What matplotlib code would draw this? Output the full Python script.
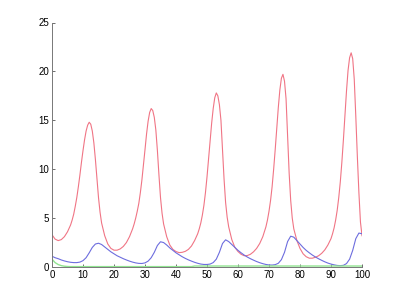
import matplotlib
matplotlib.use("Agg")
import matplotlib.pyplot as plt

# red series, sampled every half unit near the peaks
t_red = [0, 1, 2, 3, 4, 5,
         6, 6.5, 7, 7.5, 8, 8.5, 9, 9.5, 10, 10.5, 11, 11.5, 12, 12.5,
         13, 13.5, 14, 14.5, 15, 15.5, 16,
         17, 18, 19, 20, 21, 22, 23, 24, 25,
         26, 26.5, 27, 27.5, 28, 28.5, 29, 29.5, 30, 30.5, 31, 31.5, 32, 32.5,
         33, 33.5, 34, 34.5, 35, 35.5, 36,
         37, 38, 39, 40, 41, 42, 43, 44, 45, 46,
         47, 47.5, 48, 48.5, 49, 49.5, 50, 50.5, 51, 51.5, 52, 52.5, 53, 53.5,
         54, 54.5, 55, 55.5, 56, 56.5, 57,
         58, 59, 60, 61, 62, 63, 64, 65, 66, 67,
         68, 68.5, 69, 69.5, 70, 70.5, 71, 71.5, 72, 72.5, 73, 73.5, 74, 74.5,
         75, 75.5, 76, 76.5, 77, 77.5, 78,
         79, 80, 81, 82, 83, 84, 85, 86, 87, 88, 89,
         90, 90.5, 91, 91.5, 92, 92.5, 93, 93.5, 94, 94.5, 95, 95.5, 96, 96.5,
         97, 97.5, 98, 98.5, 99, 99.5, 100]
red = [3.3, 2.85, 2.7, 2.8, 3.1, 3.6,
       4.3, 4.8, 5.4, 6.2, 7.1, 8.2, 9.4, 10.7, 11.9, 13.0, 13.9, 14.5, 14.8, 14.6,
       13.9, 12.7, 11.0, 9.0, 7.1, 5.6, 4.5,
       3.2, 2.35, 1.9, 1.72, 1.72, 1.85, 2.1, 2.5, 3.1,
       3.9, 4.4, 5.0, 5.7, 6.5, 7.6, 8.9, 10.4, 12.0, 13.6, 14.9, 15.8, 16.2, 16.0,
       15.3, 14.0, 11.9, 9.4, 7.1, 5.5, 4.4,
       3.1, 2.25, 1.8, 1.58, 1.47, 1.5, 1.6, 1.8, 2.15, 2.7,
       3.4, 3.9, 4.5, 5.3, 6.3, 7.6, 9.2, 11.0, 12.9, 14.7, 16.2, 17.3, 17.8, 17.5,
       16.6, 15.0, 12.0, 9.0, 6.6, 5.1, 4.1,
       2.8, 2.0, 1.58, 1.3, 1.15, 1.17, 1.3, 1.55, 1.9, 2.4,
       3.1, 3.6, 4.1, 4.8, 5.7, 6.8, 8.2, 10.0, 12.0, 14.2, 16.3, 18.1, 19.3, 19.7,
       19.0, 17.2, 13.5, 9.6, 6.8, 5.0, 3.9,
       2.7, 1.9, 1.35, 1.05, 0.9, 0.9, 1.0, 1.15, 1.4, 1.75, 2.25,
       2.9, 3.4, 4.0, 4.8, 5.8, 7.1, 8.7, 10.7, 13.0, 15.5, 18.0, 20.1, 21.4, 21.9,
       21.3, 19.2, 15.4, 11.3, 7.6, 4.6, 3.2]

# blue series, one point per unit
t_blue = list(range(0, 101))
blue = [1.1, 0.95, 0.85, 0.72, 0.62, 0.54, 0.48, 0.45, 0.45, 0.5,
        0.65, 0.95, 1.45, 2.0, 2.35, 2.43, 2.3, 2.05, 1.8, 1.55,
        1.35, 1.15, 1.0, 0.85, 0.72, 0.6, 0.5, 0.42, 0.37, 0.36,
        0.42, 0.6, 0.95, 1.5, 2.2, 2.58, 2.5, 2.25, 1.95, 1.7,
        1.45, 1.25, 1.05, 0.88, 0.73, 0.6, 0.48, 0.38, 0.3, 0.26,
        0.26, 0.3, 0.45, 0.8, 1.5, 2.4, 2.78, 2.6, 2.3, 2.0,
        1.7, 1.45, 1.22, 1.02, 0.85, 0.7, 0.56, 0.44, 0.34, 0.26,
        0.21, 0.2, 0.24, 0.38, 0.75, 1.5, 2.6, 3.15, 3.05, 2.7,
        2.35, 2.0, 1.7, 1.45, 1.22, 1.02, 0.84, 0.68, 0.53, 0.4,
        0.3, 0.22, 0.16, 0.14, 0.17, 0.35, 0.8, 1.7, 2.9, 3.47,
        3.4]

# green series, close to zero after a quick decay
t_green = list(range(0, 101))
green = [0.8, 0.45, 0.25, 0.14, 0.08, 0.05] + [0.04] * 40 + [0.1] * 55

xticks = [0, 10, 20, 30, 40, 50, 60, 70, 80, 90, 100]
yticks = [0, 5, 10, 15, 20, 25]

plt.rcParams['font.family'] = ['Liberation Sans', 'DejaVu Sans']

fig = plt.figure(figsize=(4, 3), dpi=100)
ax = fig.add_axes([0.13, 0.11, 0.775, 0.815])

ax.plot(t_red, red, color="#f07585", lw=0.8)
ax.plot(t_blue, blue, color="#6d6dde", lw=0.8)
ax.plot(t_green, green, color="#90e490", lw=1.0)

ax.set_xlim(0, 100)
ax.set_ylim(0, 25)
ax.set_xticks(xticks)
ax.set_yticks(yticks)
ax.tick_params(direction="in", length=2.5, labelsize=7, width=0.6, color="#555555", pad=2)

for s in ["top", "right"]:
    ax.spines[s].set_visible(False)
for s in ["left", "bottom"]:
    ax.spines[s].set_color("#777777")
    ax.spines[s].set_linewidth(0.7)

fig.savefig("out.png", dpi=100)
